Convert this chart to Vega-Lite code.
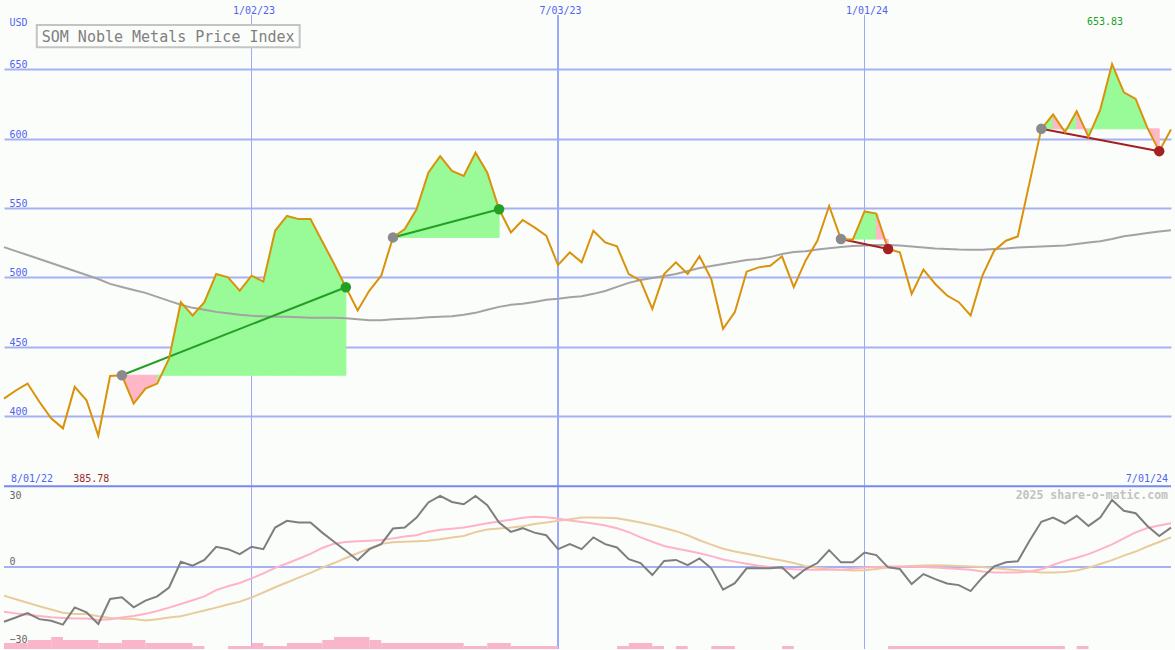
{
"$schema": "https://vega.github.io/schema/vega-lite/v6.json",
"width": 1175, "height": 650,
"autosize": {"type": "fit", "contains": "padding"},
"padding": 0,
"background": "#fbfdfb",
"config": {"view": {"stroke": null}, "font": "DejaVu Sans Mono",
  "axis": {"labelFont": "DejaVu Sans Mono", "labelFontSize": 10, "domain": false, "ticks": false, "tickSize": 0, "labelFlush": false, "labelOverlap": false, "grid": false}},
"datasets": {
"main": [
{"d":"2022-08-08","p":412.6,"ma":521.8,"m":-22.8,"f":-18.6,"s":-11.9},
{"d":"2022-08-15","p":418.4,"ma":518.9,"m":-21.0,"f":-19.3,"s":-13.4},
{"d":"2022-08-22","p":423.4,"ma":516.1,"m":-19.2,"f":-19.9,"s":-14.9},
{"d":"2022-08-29","p":410.3,"ma":513.2,"m":-21.7,"f":-20.4,"s":-16.3},
{"d":"2022-09-05","p":398.3,"ma":510.3,"m":-22.4,"f":-20.9,"s":-17.7},
{"d":"2022-09-12","p":391.1,"ma":507.5,"m":-24.0,"f":-21.2,"s":-19.0},
{"d":"2022-09-19","p":421.0,"ma":504.6,"m":-16.8,"f":-21.4,"s":-19.6},
{"d":"2022-09-26","p":411.4,"ma":501.7,"m":-18.9,"f":-21.4,"s":-19.6},
{"d":"2022-10-03","p":385.78,"ma":498.8,"m":-23.75,"f":-22.1,"s":-20.5},
{"d":"2022-10-10","p":428.9,"ma":495.3,"m":-13.3,"f":-21.8,"s":-21.2},
{"d":"2022-10-17","p":429.4,"ma":493.1,"m":-12.6,"f":-21.0,"s":-21.5,"b":429.4,"sa":-11},
{"d":"2022-10-24","p":409.0,"ma":490.9,"m":-16.8,"f":-20.4,"s":-21.7,"b":429.4,"sa":-12,"sb":-11},
{"d":"2022-10-31","p":419.8,"ma":488.8,"m":-14.0,"f":-19.5,"s":-22.3,"b":429.4,"sa":-13,"sb":-12},
{"d":"2022-11-07","p":423.4,"ma":485.9,"m":-12.2,"f":-18.3,"s":-21.8,"b":429.4,"sa":14,"sb":-13},
{"d":"2022-11-14","p":441.4,"ma":483.0,"m":-8.5,"f":-16.9,"s":-21.0,"b":429.4,"sa":15,"sb":14},
{"d":"2022-11-21","p":482.1,"ma":480.2,"m":2.2,"f":-15.4,"s":-20.5,"b":429.4,"sa":16,"sb":15},
{"d":"2022-11-28","p":472.5,"ma":478.0,"m":0.6,"f":-13.8,"s":-19.3,"b":429.4,"sa":17,"sb":16},
{"d":"2022-12-05","p":482.1,"ma":476.6,"m":3.0,"f":-12.2,"s":-18.1,"b":429.4,"sa":18,"sb":17},
{"d":"2022-12-12","p":502.4,"ma":475.1,"m":8.5,"f":-9.6,"s":-16.9,"b":429.4,"sa":19,"sb":18},
{"d":"2022-12-19","p":500.0,"ma":474.1,"m":7.5,"f":-8.0,"s":-15.6,"b":429.4,"sa":20,"sb":19},
{"d":"2022-12-26","p":490.4,"ma":473.0,"m":5.4,"f":-6.6,"s":-14.4,"b":429.4,"sa":21,"sb":20},
{"d":"2023-01-02","p":501.2,"ma":472.3,"m":8.5,"f":-4.7,"s":-12.7,"b":429.4,"sa":22,"sb":21},
{"d":"2023-01-09","p":496.9,"ma":471.9,"m":7.5,"f":-2.6,"s":-10.6,"b":429.4,"sa":23,"sb":22},
{"d":"2023-01-16","p":533.6,"ma":471.5,"m":16.5,"f":-0.3,"s":-8.4,"b":429.4,"sa":24,"sb":23},
{"d":"2023-01-23","p":544.3,"ma":471.5,"m":19.3,"f":1.5,"s":-6.4,"b":429.4,"sa":25,"sb":24},
{"d":"2023-01-30","p":542.0,"ma":471.2,"m":18.6,"f":3.5,"s":-4.4,"b":429.4,"sa":26,"sb":25},
{"d":"2023-02-06","p":542.0,"ma":470.8,"m":18.6,"f":5.5,"s":-2.4,"b":429.4,"sa":27,"sb":26},
{"d":"2023-02-13","p":525.9,"ma":470.8,"m":14.4,"f":8.0,"s":-0.2,"b":429.4,"sa":28,"sb":27},
{"d":"2023-02-20","p":509.8,"ma":470.8,"m":10.6,"f":9.8,"s":1.7,"b":429.4,"sa":29,"sb":28},
{"d":"2023-02-27","p":492.9,"ma":470.5,"m":6.8,"f":10.5,"s":3.8,"b":429.4,"sb":29},
{"d":"2023-03-06","p":476.1,"ma":469.7,"m":2.9,"f":10.8,"s":5.8},
{"d":"2023-03-13","p":490.5,"ma":469.0,"m":7.5,"f":11.0,"s":7.8},
{"d":"2023-03-20","p":501.2,"ma":469.0,"m":9.6,"f":11.3,"s":9.7},
{"d":"2023-03-27","p":528.8,"ma":469.7,"m":16.1,"f":12.0,"s":10.4,"b":528.8,"sa":34},
{"d":"2023-04-03","p":534.8,"ma":470.1,"m":16.5,"f":12.8,"s":10.6,"b":528.8,"sa":35,"sb":34},
{"d":"2023-04-10","p":549.1,"ma":470.5,"m":20.7,"f":13.3,"s":10.8,"b":528.8,"sa":36,"sb":35},
{"d":"2023-04-17","p":575.5,"ma":471.2,"m":27.0,"f":14.8,"s":11.0,"b":528.8,"sa":37,"sb":36},
{"d":"2023-04-24","p":587.4,"ma":471.5,"m":29.7,"f":15.6,"s":11.6,"b":528.8,"sa":38,"sb":37},
{"d":"2023-05-01","p":576.7,"ma":471.9,"m":27.2,"f":16.0,"s":12.4,"b":528.8,"sa":39,"sb":38},
{"d":"2023-05-08","p":573.1,"ma":473.0,"m":26.25,"f":16.5,"s":13.0,"b":528.8,"sa":40,"sb":39},
{"d":"2023-05-15","p":589.9,"ma":474.4,"m":29.7,"f":17.4,"s":14.6,"b":528.8,"sa":41,"sb":40},
{"d":"2023-05-22","p":575.5,"ma":476.6,"m":25.8,"f":18.3,"s":15.7,"b":528.8,"sa":42,"sb":41},
{"d":"2023-05-29","p":549.1,"ma":478.7,"m":18.6,"f":19.0,"s":16.1,"b":528.8,"sb":42},
{"d":"2023-06-05","p":532.4,"ma":480.2,"m":14.7,"f":19.8,"s":16.5},
{"d":"2023-06-12","p":541.4,"ma":480.9,"m":16.25,"f":20.6,"s":17.1},
{"d":"2023-06-19","p":536.0,"ma":482.3,"m":14.4,"f":21.0,"s":18.0},
{"d":"2023-06-26","p":530.0,"ma":483.8,"m":13.3,"f":20.8,"s":18.6},
{"d":"2023-07-03","p":508.9,"ma":484.5,"m":7.5,"f":20.3,"s":19.3},
{"d":"2023-07-10","p":518.0,"ma":485.6,"m":9.6,"f":19.5,"s":20.0},
{"d":"2023-07-17","p":510.8,"ma":486.3,"m":7.5,"f":18.8,"s":20.7},
{"d":"2023-07-24","p":533.6,"ma":488.1,"m":12.4,"f":18.2,"s":20.7},
{"d":"2023-07-31","p":525.2,"ma":490.2,"m":9.6,"f":17.4,"s":20.6},
{"d":"2023-08-07","p":522.3,"ma":493.1,"m":8.2,"f":16.2,"s":20.4},
{"d":"2023-08-14","p":502.4,"ma":496.0,"m":3.3,"f":14.6,"s":19.6},
{"d":"2023-08-21","p":497.6,"ma":498.1,"m":1.7,"f":12.4,"s":18.6},
{"d":"2023-08-28","p":477.3,"ma":499.6,"m":-3.3,"f":10.6,"s":17.6},
{"d":"2023-09-04","p":502.4,"ma":501.0,"m":2.6,"f":8.8,"s":16.3},
{"d":"2023-09-11","p":510.8,"ma":502.4,"m":3.0,"f":7.8,"s":15.0},
{"d":"2023-09-18","p":502.4,"ma":504.6,"m":0.8,"f":6.8,"s":13.3},
{"d":"2023-09-25","p":515.2,"ma":506.7,"m":3.6,"f":5.8,"s":11.2},
{"d":"2023-10-02","p":498.8,"ma":508.2,"m":-0.5,"f":4.6,"s":9.4},
{"d":"2023-10-09","p":462.9,"ma":509.6,"m":-9.4,"f":3.2,"s":7.7},
{"d":"2023-10-16","p":474.9,"ma":511.1,"m":-6.7,"f":2.3,"s":6.5},
{"d":"2023-10-23","p":504.1,"ma":512.5,"m":-0.5,"f":1.4,"s":5.6},
{"d":"2023-10-30","p":507.2,"ma":513.2,"m":-0.5,"f":0.6,"s":4.6},
{"d":"2023-11-06","p":508.4,"ma":514.6,"m":-0.5,"f":0.0,"s":3.6},
{"d":"2023-11-13","p":515.2,"ma":516.8,"m":-0.1,"f":-0.6,"s":2.8},
{"d":"2023-11-20","p":492.9,"ma":518.2,"m":-4.7,"f":-0.9,"s":1.7},
{"d":"2023-11-27","p":512.0,"ma":518.9,"m":-0.8,"f":-1.1,"s":0.4},
{"d":"2023-12-04","p":526.4,"ma":520.0,"m":1.7,"f":-1.1,"s":-0.3},
{"d":"2023-12-11","p":551.5,"ma":520.9,"m":7.1,"f":-1.1,"s":-0.8},
{"d":"2023-12-18","p":527.6,"ma":521.8,"m":2.0,"f":-1.1,"s":-1.1,"b":527.6,"sa":-72},
{"d":"2023-12-25","p":527.1,"ma":522.6,"m":2.0,"f":-0.7,"s":-1.4,"b":527.6,"sa":73,"sb":-72},
{"d":"2024-01-01","p":547.5,"ma":522.9,"m":6.1,"f":-0.2,"s":-1.3,"b":527.6,"sa":74,"sb":73},
{"d":"2024-01-08","p":546.0,"ma":523.3,"m":5.0,"f":0.1,"s":-0.8,"b":527.6,"sa":-75,"sb":74},
{"d":"2024-01-15","p":520.4,"ma":523.3,"m":-0.1,"f":0.3,"s":-0.2,"b":527.6,"sb":-75},
{"d":"2024-01-22","p":518.0,"ma":522.9,"m":-0.8,"f":0.3,"s":0.2},
{"d":"2024-01-29","p":488.1,"ma":522.2,"m":-7.1,"f":0.2,"s":0.5},
{"d":"2024-02-05","p":505.6,"ma":521.5,"m":-2.9,"f":0.0,"s":0.7},
{"d":"2024-02-12","p":495.2,"ma":520.8,"m":-5.0,"f":-0.2,"s":0.8},
{"d":"2024-02-19","p":486.9,"ma":520.4,"m":-6.8,"f":-0.5,"s":0.7},
{"d":"2024-02-26","p":482.1,"ma":520.0,"m":-7.5,"f":-0.8,"s":0.5},
{"d":"2024-03-04","p":472.5,"ma":519.9,"m":-10.0,"f":-1.1,"s":0.3},
{"d":"2024-03-11","p":501.2,"ma":519.9,"m":-4.3,"f":-1.8,"s":0.0},
{"d":"2024-03-18","p":519.2,"ma":520.4,"m":0.3,"f":-2.2,"s":-0.5},
{"d":"2024-03-25","p":526.4,"ma":520.8,"m":2.0,"f":-2.2,"s":-0.9},
{"d":"2024-04-01","p":529.5,"ma":521.5,"m":2.4,"f":-2.2,"s":-1.3},
{"d":"2024-04-08","p":568.3,"ma":521.8,"m":11.0,"f":-1.8,"s":-1.8},
{"d":"2024-04-15","p":607.1,"ma":522.2,"m":18.9,"f":-0.9,"s":-2.2,"b":607.1,"sa":89},
{"d":"2024-04-22","p":617.4,"ma":522.6,"m":20.7,"f":0.9,"s":-2.2,"b":607.1,"sa":-90,"sb":89},
{"d":"2024-04-29","p":604.7,"ma":522.9,"m":18.2,"f":2.6,"s":-2.0,"b":607.1,"sa":91,"sb":-90},
{"d":"2024-05-06","p":619.8,"ma":524.0,"m":21.4,"f":3.9,"s":-1.4,"b":607.1,"sa":-92,"sb":91},
{"d":"2024-05-13","p":601.3,"ma":525.1,"m":17.2,"f":5.4,"s":-0.2,"b":607.1,"sa":93,"sb":-92},
{"d":"2024-05-20","p":621.0,"ma":526.1,"m":20.7,"f":7.4,"s":1.3,"b":607.1,"sa":94,"sb":93},
{"d":"2024-05-27","p":653.83,"ma":527.6,"m":28.0,"f":9.5,"s":2.9,"b":607.1,"sa":95,"sb":94},
{"d":"2024-06-03","p":633.4,"ma":529.7,"m":23.5,"f":12.0,"s":4.8,"b":607.1,"sa":96,"sb":95},
{"d":"2024-06-10","p":628.7,"ma":530.8,"m":22.5,"f":14.5,"s":6.5,"b":607.1,"sa":97,"sb":96},
{"d":"2024-06-17","p":607.8,"ma":531.9,"m":17.2,"f":16.3,"s":8.6,"b":607.1,"sa":-98,"sb":97},
{"d":"2024-06-24","p":591.0,"ma":533.0,"m":13.0,"f":17.4,"s":10.5,"b":607.1,"sb":-98},
{"d":"2024-07-01","p":606.6,"ma":534.0,"m":16.5,"f":18.3,"s":12.4}
],
"trades": [
{"t":1,"d":"2022-10-17","p":429.4,"k":"s","r":"w"},
{"t":1,"d":"2023-02-27","p":492.9,"k":"w","r":"w"},
{"t":2,"d":"2023-03-27","p":528.8,"k":"s","r":"w"},
{"t":2,"d":"2023-05-29","p":549.1,"k":"w","r":"w"},
{"t":3,"d":"2023-12-18","p":527.6,"k":"s","r":"l"},
{"t":3,"d":"2024-01-15","p":520.4,"k":"l","r":"l"},
{"t":4,"d":"2024-04-15","p":607.1,"k":"s","r":"l"},
{"t":4,"d":"2024-06-24","p":591.0,"k":"l","r":"l"}
],
"ext": [
{"d":"2022-10-03","p":385.78,"k":"min"},
{"d":"2024-05-27","p":653.83,"k":"max"}
],
"bars": [
{"d":"2022-08-08","d2":"2022-08-22","h":2},
{"d":"2022-08-22","d2":"2022-09-05","h":3},
{"d":"2022-09-05","d2":"2022-09-12","h":4},
{"d":"2022-09-12","d2":"2022-10-03","h":3},
{"d":"2022-10-03","d2":"2022-10-17","h":2},
{"d":"2022-10-17","d2":"2022-10-31","h":3},
{"d":"2022-10-31","d2":"2022-11-28","h":2},
{"d":"2022-11-28","d2":"2022-12-05","h":1},
{"d":"2022-12-19","d2":"2023-01-02","h":1},
{"d":"2023-01-02","d2":"2023-01-09","h":2},
{"d":"2023-01-09","d2":"2023-01-23","h":1},
{"d":"2023-01-23","d2":"2023-02-13","h":2},
{"d":"2023-02-13","d2":"2023-02-20","h":3},
{"d":"2023-02-20","d2":"2023-03-13","h":4},
{"d":"2023-03-13","d2":"2023-03-20","h":3},
{"d":"2023-03-20","d2":"2023-05-08","h":2},
{"d":"2023-05-08","d2":"2023-05-22","h":1},
{"d":"2023-05-22","d2":"2023-06-05","h":2},
{"d":"2023-06-05","d2":"2023-07-03","h":1},
{"d":"2023-08-07","d2":"2023-08-14","h":1},
{"d":"2023-08-14","d2":"2023-08-28","h":2},
{"d":"2023-08-28","d2":"2023-09-04","h":1},
{"d":"2023-09-11","d2":"2023-09-18","h":1},
{"d":"2023-10-02","d2":"2023-10-16","h":1},
{"d":"2023-11-13","d2":"2023-11-20","h":1},
{"d":"2024-01-15","d2":"2024-04-29","h":1},
{"d":"2024-05-06","d2":"2024-05-13","h":1}
],
"vgrid": [{"d":"2023-01-02"},{"d":"2023-07-03"},{"d":"2024-01-01"}]
},
"resolve": {"scale": {"y": "independent"}},
"layer": [
{
"layer": [
{
"data": {"name": "vgrid"},
"mark": {"type": "rule", "color": "#9ca9f8"},
"encoding": {
  "x": {"field": "d", "type": "temporal", "title": null,
    "scale": {"type": "utc", "nice": false, "domain": [{"year":2022,"month":8,"date":8,"utc":true},{"year":2024,"month":7,"date":1,"utc":true}]},
    "axis": {"orient": "top", "values": [{"year":2023,"month":1,"date":2,"utc":true},{"year":2023,"month":7,"date":3,"utc":true},{"year":2024,"month":1,"date":1,"utc":true}],
      "format": "%-m/%d/%y", "labelPadding": -13, "labelBaseline": "alphabetic", "labelOffset": 2, "labelColor": "#5064f0", "title": null, "grid": false}},
  "y": {"datum": 689.2, "scale": {"domain": [232, 700], "nice": false, "zero": false}},
  "y2": {"datum": 232},
  "strokeWidth": {"condition": {"test": "utcmonth(datum.d) === 6", "value": 2}, "value": 1}
}
},
{
"data": {"name": "main"},
"transform": [{"fold": ["sa", "sb"], "as": ["key", "sg"]}, {"filter": "isValid(datum.sg)"}],
"mark": {"type": "area", "opacity": 1, "strokeWidth": 1},
"encoding": {
  "x": {"field": "d", "type": "temporal", "title": null},
  "y": {"field": "p", "type": "quantitative", "stack": null, "scale": {"domain": [232, 700], "nice": false, "zero": false}},
  "y2": {"field": "b"},
  "detail": {"field": "sg", "type": "nominal"},
  "fill": {"condition": {"test": "datum.sg > 0", "value": "#98fb98"}, "value": "#ffb6c6"},
  "stroke": {"condition": {"test": "datum.sg > 0", "value": "#98fb98"}, "value": "#ffb6c6"}
}
},
{
"data": {"name": "main"},
"mark": {"type": "line", "color": "#a3a3a3", "strokeWidth": 2},
"encoding": {
  "x": {"field": "d", "type": "temporal", "title": null},
  "y": {"field": "ma", "type": "quantitative", "scale": {"domain": [232, 700], "nice": false, "zero": false}}
}
},
{
"data": {"name": "trades"},
"mark": {"type": "line", "strokeWidth": 2},
"encoding": {
  "x": {"field": "d", "type": "temporal", "title": null},
  "y": {"field": "p", "type": "quantitative", "scale": {"domain": [232, 700], "nice": false, "zero": false}},
  "detail": {"field": "t", "type": "nominal"},
  "color": {"field": "r", "type": "nominal", "legend": null, "scale": {"domain": ["s","w","l"], "range": ["#8a8a8a","#23a023","#a52020"]}}
}
},
{
"data": {"name": "main"},
"mark": {"type": "line", "color": "#d9920a", "strokeWidth": 2},
"encoding": {
  "x": {"field": "d", "type": "temporal", "title": null},
  "y": {"field": "p", "type": "quantitative", "scale": {"domain": [232, 700], "nice": false, "zero": false},
    "axis": {"orient": "left", "values": [400,450,500,550,600,650], "grid": true, "gridColor": "#a6b1f4", "gridWidth": 2,
      "labelAlign": "left", "labelPadding": -5, "labelBaseline": "alphabetic", "labelOffset": -1.5, "labelColor": "#5064f0",
      "title": "USD", "titleAngle": 0, "titleX": 5, "titleY": 25, "titleAlign": "left", "titleBaseline": "alphabetic",
      "titleColor": "#5064f0", "titleFont": "DejaVu Sans Mono", "titleFontSize": 10, "titleFontWeight": "normal", "titlePadding": 0}}
}
},
{
"data": {"name": "trades"},
"mark": {"type": "point", "filled": true, "opacity": 1, "size": 110},
"encoding": {
  "x": {"field": "d", "type": "temporal", "title": null},
  "y": {"field": "p", "type": "quantitative", "scale": {"domain": [232, 700], "nice": false, "zero": false}},
  "color": {"field": "k", "type": "nominal", "legend": null, "scale": {"domain": ["s","w","l"], "range": ["#8a8a8a","#23a023","#a52020"]}}
}
},
{
"data": {"name": "ext"},
"transform": [{"filter": "datum.k === 'min'"}],
"mark": {"type": "text", "color": "#a02828", "fontSize": 10, "align": "center", "baseline": "alphabetic", "dx": -7},
"encoding": {
  "x": {"field": "d", "type": "temporal", "title": null},
  "y": {"datum": 352.4},
  "text": {"field": "p", "type": "quantitative", "format": ".2f"}
}
},
{
"data": {"name": "ext"},
"transform": [{"filter": "datum.k === 'max'"}],
"mark": {"type": "text", "color": "#22a022", "fontSize": 10, "align": "center", "baseline": "alphabetic", "dx": -7},
"encoding": {
  "x": {"field": "d", "type": "temporal", "title": null},
  "y": {"datum": 682},
  "text": {"field": "p", "type": "quantitative", "format": ".2f"}
}
},
{
"data": {"values": [{"t": "sep"}]},
"mark": {"type": "rule", "color": "#7888f0", "strokeWidth": 2},
"encoding": {"y": {"datum": 349.4}}
},
{
"data": {"values": [{"t": "8/01/22"}]},
"mark": {"type": "text", "color": "#5064f0", "fontSize": 10, "align": "left", "baseline": "alphabetic", "dx": 7},
"encoding": {
  "x": {"datum": {"year":2022,"month":8,"date":8,"utc":true}, "type": "temporal"},
  "y": {"datum": 352.4},
  "text": {"field": "t"}
}
},
{
"data": {"values": [{"t": "7/01/24"}]},
"mark": {"type": "text", "color": "#5064f0", "fontSize": 10, "align": "right", "baseline": "alphabetic", "dx": -3},
"encoding": {
  "x": {"datum": {"year":2024,"month":7,"date":1,"utc":true}, "type": "temporal"},
  "y": {"datum": 352.4},
  "text": {"field": "t"}
}
},
{
"data": {"values": [{"t": "box"}]},
"mark": {"type": "rect", "fill": "#fbfdfb", "stroke": "#c4c4c4", "strokeWidth": 2},
"encoding": {
  "x": {"datum": {"year":2022,"month":8,"date":27,"hours":11,"utc":true}, "type": "temporal"},
  "x2": {"datum": {"year":2023,"month":1,"date":30,"hours":14,"utc":true}},
  "y": {"datum": 682.0},
  "y2": {"datum": 665.9}
}
},
{
"data": {"values": [{"t": "SOM Noble Metals Price Index"}]},
"mark": {"type": "text", "color": "#808080", "fontSize": 15, "align": "center", "baseline": "alphabetic"},
"encoding": {
  "x": {"datum": {"year":2022,"month":11,"date":13,"hours":12,"utc":true}, "type": "temporal"},
  "y": {"datum": 670.0},
  "text": {"field": "t"}
}
}
]
},
{
"layer": [
{
"data": {"values": [{"t": "zero"}]},
"mark": {"type": "rule", "color": "#a6b1f4", "strokeWidth": 2},
"encoding": {"y": {"datum": 0, "scale": {"domain": [-34.17, 236.67], "nice": false, "zero": false}}}
},
{
"data": {"name": "main"},
"mark": {"type": "line", "color": "#e8cc9c", "strokeWidth": 2},
"encoding": {
  "x": {"field": "d", "type": "temporal", "title": null},
  "y": {"field": "s", "type": "quantitative", "scale": {"domain": [-34.17, 236.67], "nice": false, "zero": false}}
}
},
{
"data": {"name": "main"},
"mark": {"type": "line", "color": "#ffb2c8", "strokeWidth": 2},
"encoding": {
  "x": {"field": "d", "type": "temporal", "title": null},
  "y": {"field": "f", "type": "quantitative", "scale": {"domain": [-34.17, 236.67], "nice": false, "zero": false}}
}
},
{
"data": {"name": "main"},
"mark": {"type": "line", "color": "#7e7e7e", "strokeWidth": 2},
"encoding": {
  "x": {"field": "d", "type": "temporal", "title": null},
  "y": {"field": "m", "type": "quantitative", "scale": {"domain": [-34.17, 236.67], "nice": false, "zero": false},
    "axis": {"orient": "left", "values": [30, 0, -30], "grid": false, "labelAlign": "left", "labelPadding": -5, "labelBaseline": "middle",
      "labelOffset": {"condition": {"test": "datum.value === 0", "value": -5.5}, "value": 0}, "labelColor": "#666666", "title": null}}
}
},
{
"data": {"values": [{"t": "2025 share-o-matic.com"}]},
"mark": {"type": "text", "color": "#c2c2c2", "fontSize": 11.5, "fontWeight": "bold", "align": "right", "baseline": "alphabetic", "dx": -3},
"encoding": {
  "x": {"datum": {"year":2024,"month":7,"date":1,"utc":true}, "type": "temporal"},
  "y": {"datum": 28.3},
  "text": {"field": "t"}
}
}
]
},
{
"data": {"name": "bars"},
"mark": {"type": "rect", "color": "#f9b5c9"},
"encoding": {
  "x": {"field": "d", "type": "temporal", "title": null},
  "x2": {"field": "d2"},
  "y": {"field": "h", "type": "quantitative", "axis": null, "scale": {"domain": [0, 216.67], "nice": false, "zero": false}},
  "y2": {"datum": 0}
}
}
]
}
